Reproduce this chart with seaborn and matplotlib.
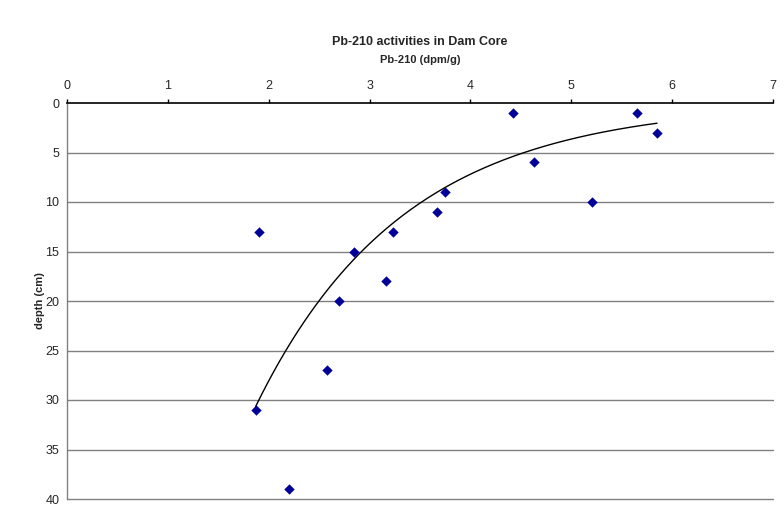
import numpy as np
import pandas as pd
import matplotlib
matplotlib.use("Agg")
import matplotlib.pyplot as plt
import seaborn as sns

# Pb-210 activity (dpm/g) and depth (cm)
activity = [4.42, 5.65, 5.85, 4.63, 3.75, 5.21, 3.67, 1.90, 3.23, 2.85, 3.16, 2.70, 2.58, 1.87, 2.20]
depth = [1, 1, 3, 6, 9, 10, 11, 13, 13, 15, 18, 20, 27, 31, 39]
x_ticks = [0, 1, 2, 3, 4, 5, 6, 7]
y_ticks = [0, 5, 10, 15, 20, 25, 30, 35, 40]

df = pd.DataFrame({"activity": activity, "depth": depth})

# exponential trendline (depth = a * exp(b * activity)), like Excel does it
b, ln_a = np.polyfit(df["activity"], np.log(df["depth"]), 1)
fit_x = np.linspace(df["activity"].min(), df["activity"].max(), 200)
fit_df = pd.DataFrame({"activity": fit_x, "depth": np.exp(ln_a) * np.exp(b * fit_x)})

sns.set_style("white")
plt.rcParams["font.family"] = ["Liberation Sans", "DejaVu Sans"]

fig = plt.figure(figsize=(7.84, 5.07), dpi=100)
ax = fig.add_axes([67 / 784, 1 - 499 / 507, (773 - 67) / 784, (499 - 103) / 507])

for yv in y_ticks[1:]:
    ax.axhline(yv, color="#808080", lw=1.0, zorder=0, clip_on=False)

sns.lineplot(data=fit_df, x="activity", y="depth", color="black", lw=1.0,
             sort=False, ax=ax, zorder=2)
sns.scatterplot(data=df, x="activity", y="depth", marker="D", s=28,
                color="#000099", edgecolor="#000099", linewidth=0, ax=ax, zorder=3)

ax.set_xlim(0, 7)
ax.set_ylim(40, 0)
ax.set_xticks(x_ticks)
ax.set_yticks(y_ticks)
ax.xaxis.tick_top()
ax.xaxis.set_label_position("top")
ax.tick_params(axis="x", direction="out", length=3, width=1, color="black",
               labelsize=9, pad=5)
ax.tick_params(axis="y", direction="out", length=3, width=1, color="#808080",
               labelsize=9, pad=2.5)
ax.tick_params(axis="both", which="both", bottom=False, right=False)

for side in ["bottom", "right"]:
    ax.spines[side].set_visible(False)
ax.spines["top"].set_color("black")
ax.spines["top"].set_linewidth(1.2)
ax.spines["left"].set_color("#808080")
ax.spines["left"].set_linewidth(1.0)

ax.set_xlabel("Pb-210 (dpm/g)", fontsize=8, fontweight="bold", labelpad=12)
ax.set_ylabel("depth (cm)", fontsize=8, fontweight="bold", labelpad=0)
fig.text(0.5 * (67 + 773) / 784, 1 - 42 / 507, "Pb-210 activities in Dam Core",
         ha="center", va="center", fontsize=9, fontweight="bold")

fig.savefig("out.png", dpi=100)
